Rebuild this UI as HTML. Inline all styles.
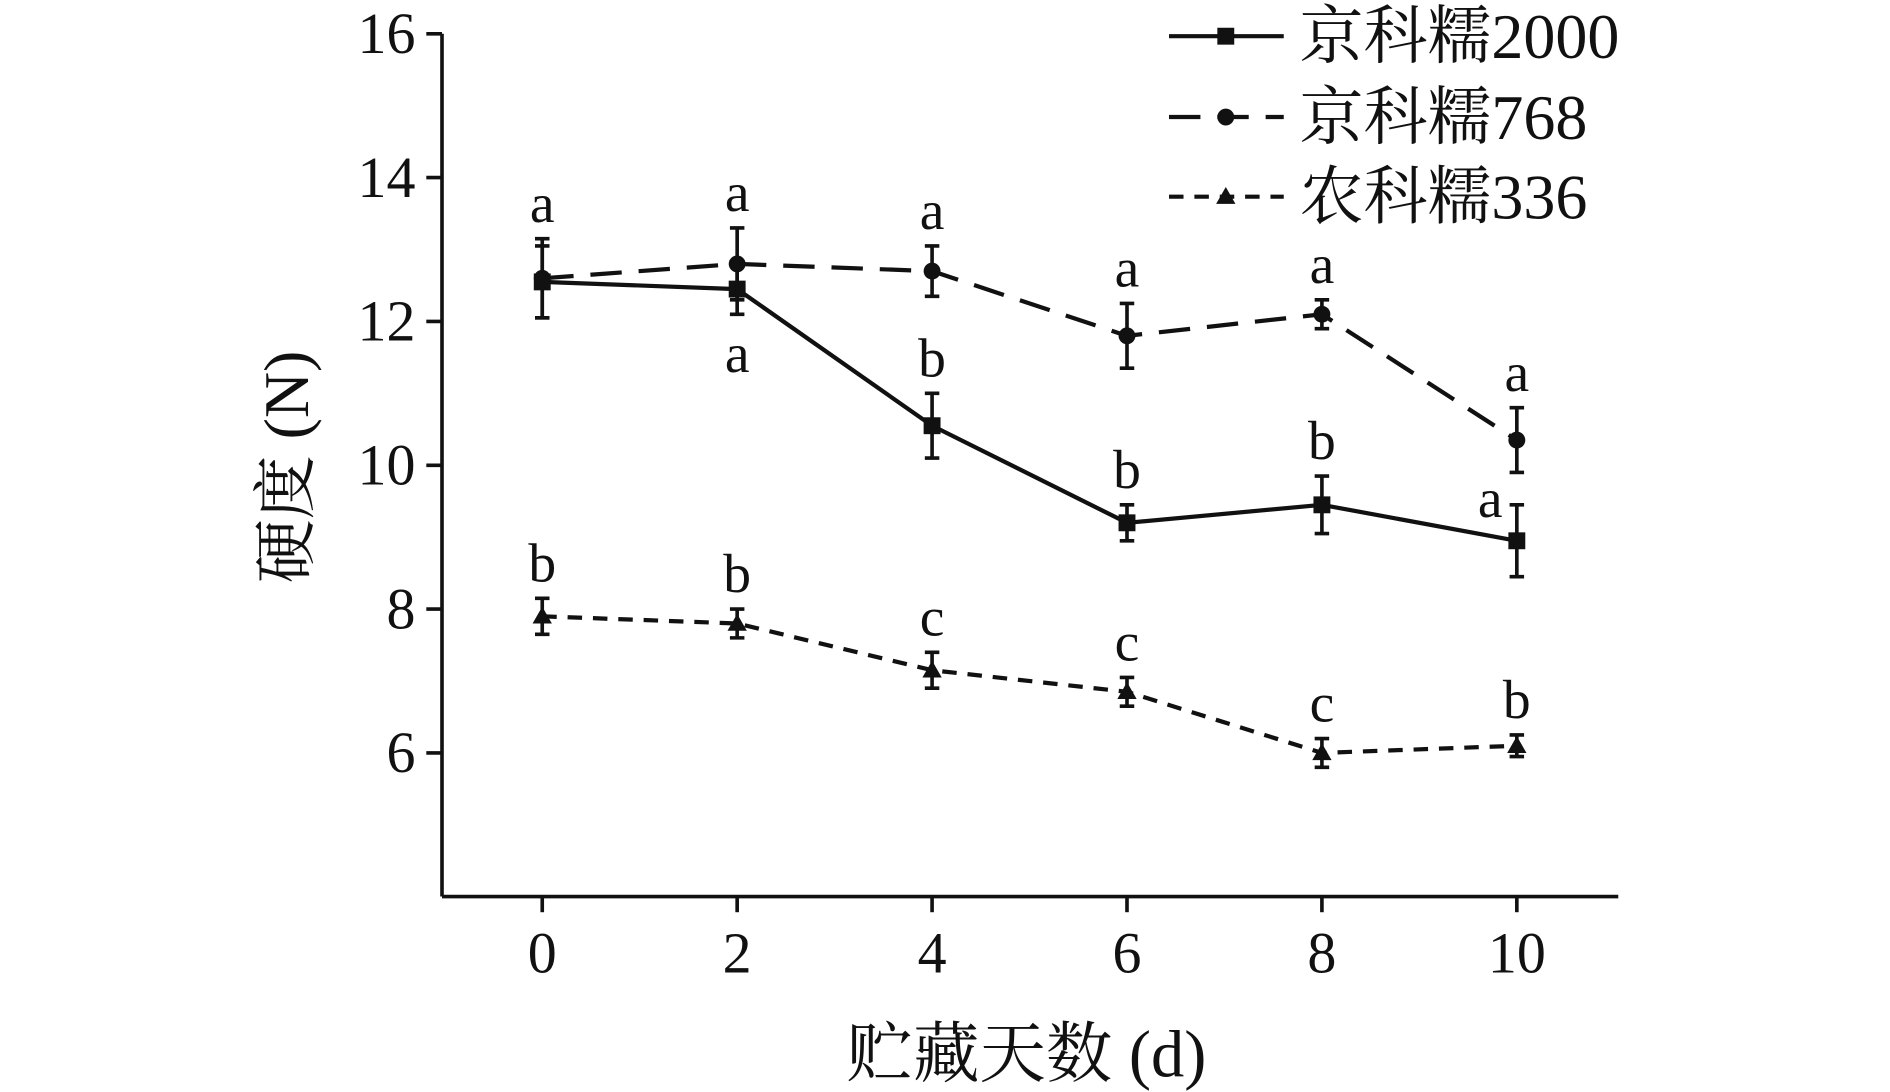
<!DOCTYPE html>
<html><head><meta charset="utf-8"><style>
html,body{margin:0;padding:0;background:#fff;}
svg{display:block;}
text{font-family:"Liberation Serif","Noto Serif CJK SC",serif;fill:#111;}
</style></head><body>
<svg id="chart" width="1890" height="1092" viewBox="0 0 1565 905" preserveAspectRatio="none" xmlns="http://www.w3.org/2000/svg"></svg>
<script>
const days = [0, 2, 4, 6, 8, 10];
const yTicks = [6, 8, 10, 12, 14, 16];
const s1Values = [12.55, 12.45, 10.55, 9.2, 9.45, 8.95];
const s1Errors = [0.5, 0.35, 0.45, 0.25, 0.4, 0.5];
const s2Values = [12.6, 12.8, 12.7, 11.8, 12.1, 10.35];
const s2Errors = [0.55, 0.5, 0.35, 0.45, 0.2, 0.45];
const s3Values = [7.9, 7.8, 7.15, 6.85, 6.0, 6.1];
const s3Errors = [0.25, 0.2, 0.25, 0.2, 0.2, 0.15];
const s1Letters = ["", "a", "b", "b", "b", "a"];
const s1LetterBelow = [false, true, false, false, false, false];
const s1LetterSide = [false, false, false, false, false, true];
const s2Letters = ["a", "a", "a", "a", "a", "a"];
const s3Letters = ["b", "b", "c", "c", "c", "b"];
const seriesNames = ["京科糯2000", "京科糯768", "农科糯336"];

const NS = "http://www.w3.org/2000/svg";
const svg = document.getElementById("chart");
const X0 = 366, X1 = 1340, YB = 743, YT = 28;
const xs = d => 449 + d * 80.7;
const ys = v => 28 + (16 - v) * 59.6;
function mk(tag, attrs, parent) {
  const e = document.createElementNS(NS, tag);
  for (const k in attrs) e.setAttribute(k, attrs[k]);
  (parent || svg).appendChild(e);
  return e;
}
let ax = mk("line", {x1: X0, y1: YT, x2: X0, y2: YB, stroke: "#111", "stroke-width": 3});


ax = mk("line", {x1: X0, y1: YB, x2: X1, y2: YB, stroke: "#111", "stroke-width": 3});


yTicks.forEach(v => {
  const t = mk("line", {x1: X0 - 13, y1: ys(v), x2: X0, y2: ys(v), stroke: "#111", "stroke-width": 3});
  
  
  const l = mk("text", {x: X0 - 22, y: ys(v) + 16, "text-anchor": "end", "font-size": 48});
  l.textContent = v;
  
  
});
days.forEach(d => {
  const t = mk("line", {x1: xs(d), y1: YB, x2: xs(d), y2: YB + 13, stroke: "#111", "stroke-width": 3});
  
  
  const l = mk("text", {x: xs(d), y: 806, "text-anchor": "middle", "font-size": 48});
  l.textContent = d;
  
  
});
let tt = mk("text", {x: 850, y: 892, "text-anchor": "middle", "font-size": 55});
tt.textContent = "贮藏天数 (d)";


tt = mk("text", {x: 0, y: 0, "text-anchor": "middle", "font-size": 53, transform: "translate(255,387) rotate(-90)"});
tt.textContent = "硬度 (N)";



function series(vals, errs, dash, marker, name) {
  const g = mk("g", {});
  
  
  const pts = vals.map((v, i) => xs(days[i]) + "," + ys(v)).join(" ");
  const pl = mk("polyline", {points: pts, fill: "none", stroke: "#111", "stroke-width": 3.5, "stroke-dasharray": dash}, g);
  
  
  vals.forEach((v, i) => {
    const x = xs(days[i]), y = ys(v), e1 = ys(v + errs[i]), e2 = ys(v - errs[i]);
    const eb = mk("path", {d: `M${x},${e1}V${e2}M${x-6},${e1}H${x+6}M${x-6},${e2}H${x+6}`, stroke: "#111", "stroke-width": 3, fill: "none"}, g);
    
    
    drawMarker(marker, x, y, g, name);
  });
}
function drawMarker(marker, x, y, g, name) {
  let m;
  if (marker === "square") m = mk("rect", {x: x - 7, y: y - 7, width: 14, height: 14, fill: "#111"}, g);
  else if (marker === "circle") m = mk("circle", {cx: x, cy: y, r: 7, fill: "#111"}, g);
  else m = mk("polygon", {points: `${x},${y-8} ${x+8},${y+6} ${x-8},${y+6}`, fill: "#111"}, g);
  
  
}
series(s1Values, s1Errors, "none", "square", "series-jingkenuo2000");
series(s2Values, s2Errors, "26 14", "circle", "series-jingkenuo768");
series(s3Values, s3Errors, "12 9", "triangle", "series-nongkenuo336");

function letters(arr, vals, errs, below, side, name) {
  arr.forEach((s, i) => {
    if (!s) return;
    const b = below && below[i];
    const sd = side && side[i];
    let y = b ? ys(vals[i] - errs[i]) + 48 : ys(vals[i] + errs[i]) - 14;
    let x = xs(days[i]);
    if (sd) { x -= 22; y = ys(vals[i] + errs[i]) + 10; }
    const t = mk("text", {x: x, y: y, "text-anchor": "middle", "font-size": 46});
    t.textContent = s;
    
    
  });
}
letters(s2Letters, s2Values, s2Errors, null, null, "significance-letter-768");
letters(s1Letters, s1Values, s1Errors, s1LetterBelow, s1LetterSide, "significance-letter-2000");
letters(s3Letters, s3Values, s3Errors, null, null, "significance-letter-336");

const legY = [30, 97, 163];
const legDash = ["none", "26 14", "12 9"];
const legMarker = ["square", "circle", "triangle"];
seriesNames.forEach((n, i) => {
  const g = mk("g", {});
  
  
  const l = mk("line", {x1: 968, y1: legY[i], x2: 1063, y2: legY[i], stroke: "#111", "stroke-width": 3.5, "stroke-dasharray": legDash[i]}, g);
  
  
  drawMarker(legMarker[i], 1015, legY[i], g, 'legend');
  const t = mk("text", {x: 1076, y: legY[i] + 18, "font-size": 53}, g);
  t.textContent = n;
  
  
});
</script>
</body></html>
